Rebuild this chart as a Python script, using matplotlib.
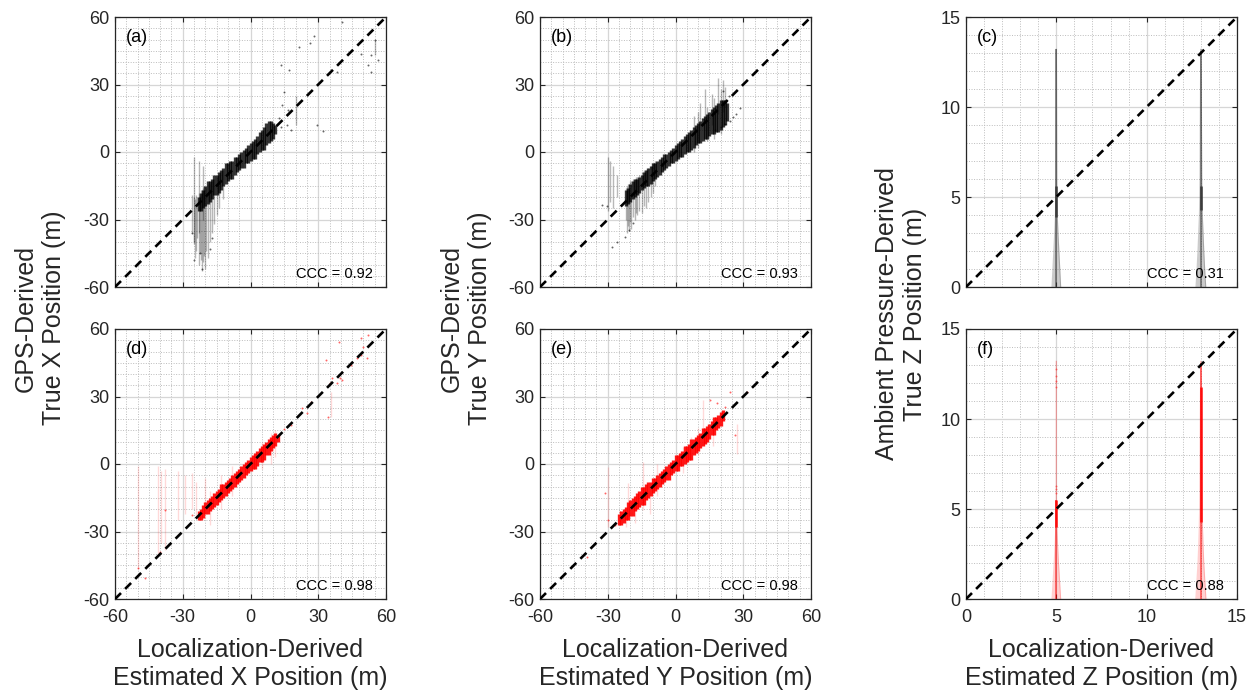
import matplotlib
matplotlib.use("Agg")
import matplotlib.pyplot as plt
from matplotlib.ticker import MultipleLocator

plt.rcParams['font.family'] = ['Liberation Sans', 'DejaVu Sans']
plt.rcParams['axes.unicode_minus'] = False

# ---------------- (a) X position, first estimator (black) ----------------
a_core_x = [-23, -22, -21, -20, -19, -18, -17, -16, -15, -14, -13, -12, -11, -10, -9, -8, -7, -6,
            -5, -4, -3, -2, -1, 0, 1, 2, 3, 4, 5, 6, 7, 8, 9, 10, 11]
a_core_lo = [-26, -26, -25, -24, -23, -22, -21, -19, -19, -18, -17, -15, -14, -13, -12, -12, -10, -9,
             -8, -7, -7, -5, -5, -4, -3, -3, -1, 0, 1, 1, 3, 4, 5, 6, 8]
a_core_hi = [-20, -18, -17, -15, -13, -13, -12, -10, -10, -9, -8, -7, -5, -5, -4, -4, -2, -2,
             -1, 0, 1, 2, 3, 4, 5, 6, 7, 9, 10, 11, 13, 14, 14, 13, 12]
a_tail_x = [-26, -25, -24.5, -24, -23.5, -23, -22.5, -22, -21.5, -21, -20.5, -20, -19.5, -19, -18,
            -17, -16, -15, -14, -12, -25, -23, -21, 20, 55]
a_tail_lo = [-36, -41, -47, -44, -38, -50, -45, -48, -53, -49, -46, -52, -44, -47, -40,
             -36, -32, -28, -25, -21, -40, -36, -30, 12, 43]
a_tail_hi = [-19, -20, -21, -19, -20, -18, -19, -17, -17, -16, -17, -15, -16, -14, -14,
             -13, -12, -11, -10, -8, -2, -4, -6, 25, 50]
a_pts_x = [40.3, 28.1, 26.4, 21.5, 55, 53.3, 48.9, 52, 56.6, 13.3, 17, 38.2, 53.3, 14.8, 14.1, 16.6,
           29.6, 31.9, 16.3, 17.8, -24.8, -21.5, -26, -18, -22.5, -17, 12.5, 13.5]
a_pts_y = [57.6, 51.7, 48.3, 46.5, 49.8, 43, 43.4, 38.7, 40.9, 38.7, 36.4, 35.7, 35.4, 26.8, 20.9, 18.7,
           12, 9.3, 12, 9.7, -48, -52, -36, -43, -45, -38, 15, 11]

# ---------------- (b) Y position, first estimator (black) ----------------
b_core_x = [-22, -21, -20, -19, -18, -17, -16, -15, -14, -13, -12, -11, -10, -9, -8, -7, -6, -5, -4, -3,
            -2, -1, 0, 1, 2, 3, 4, 5, 6, 7, 8, 9, 10, 11, 12, 13, 14, 15, 16, 17, 18, 19, 20, 21, 22, 23]
b_core_lo = [-24, -23, -22, -21, -20, -19, -18, -17, -16, -15, -15, -14, -13, -12, -11, -10, -9, -8, -7, -6,
             -5, -5, -4, -3, -2, -2, -1, 0, 0, 1, 2, 3, 4, 4, 5, 6, 6, 7, 8, 8, 9, 9, 10, 11, 12, 14]
b_core_hi = [-17, -16, -14, -13, -12, -12, -11, -10, -9, -8, -7, -6, -5, -5, -4, -3, -2, -1, -1, 0,
             1, 2, 3, 4, 5, 6, 7, 8, 9, 10, 11, 12, 13, 14, 15, 16, 17, 18, 19, 20, 21, 22, 23, 23, 23, 22]
b_tail_x = [-22, -21.5, -21, -20.5, -20, -19.5, -19, -18, -17.5, -17, -16, -15, -14, -13, -12, -11, -10, -9,
            -30, -29, -27.5, -26, 11, 13, 16, 19, 21, 22, 8, 10, 14, 17, 20]
b_tail_lo = [-30, -36, -33, -35, -31, -34, -29, -30, -27, -28, -26, -27, -24, -25, -22, -20, -18, -15,
             -26, -22, -25, -20, 12, 14, 12, 17, 18, 20, 0, 2, 5, 6, 8]
b_tail_hi = [-16, -15, -14, -14, -13, -13, -12, -12, -11, -11, -10, -9, -8, -8, -7, -6, -5, -4,
             -2, -4, -6, -10, 22, 28, 26, 33, 32, 29, 16, 18, 20, 24, 28]
b_pts_x = [17.5, 20, 22, 24, 25.5, 27, 28.6, -32.7, -30.4, -28.3, -26, -22.4, -20.5, -18.7, 23.5, 21]
b_pts_y = [9.8, 11, 12.5, 14, 15.5, 17, 19.4, -23.6, -24, -42, -40, -37.6, -34.5, -31.7, 25, 27]

# ---------------- (d) X position, refined estimator (red) ----------------
d_core_x = [-23, -22, -21, -20, -19, -18, -17, -16, -15, -14, -13, -12, -11, -10, -9, -8, -7, -6,
            -5, -4, -3, -2, -1, 0, 1, 2, 3, 4, 5, 6, 7, 8, 9, 10, 11, 12]
d_core_lo = [-25, -25, -24, -22, -22, -21, -20, -19, -18, -17, -16, -15, -14, -13, -12, -11, -10, -9,
             -8, -7, -6, -5, -4, -3, -2, -2, -1, 1, 1, 2, 4, 4, 6, 7, 8, 10]
d_core_hi = [-21, -20, -18, -17, -16, -15, -14, -13, -12, -11, -9, -9, -8, -7, -6, -5, -4, -3,
             -2, -1, 0, 1, 2, 3, 4, 5, 6, 7, 8, 9, 10, 11, 12, 13, 14, 13]
d_tail_x = [-49.6, -41, -39.5, -38, -32, -29, -26, -24, -18, -13, -8, 5, 9, 11, 35.6, -20]
d_tail_lo = [-46, -40, -35, -38, -25, -22, -20, -23, -27, -20, -14, -2, 0, 3, 21, -24]
d_tail_hi = [-1, -1, -3, -2, -3, -5, -4, -8, -12, -5, -1, 10, 14, 15, 32, -6]
d_pts_x = [39.3, 48.9, 52.1, 49.6, 48.9, 47.1, 51.6, 44.4, 33.3, 36.3, 39.7, 35.3, 38.2, 40.7, 26.7,
           23, 24.9, 34.1, -49.6, -46.7, -37.8, -26, -40, 15, 18]
d_pts_y = [54.1, 55.9, 57.3, 52.1, 48.4, 47, 47, 44, 46.2, 38.1, 38.1, 35.9, 35.9, 37.3, 27.7,
           24.7, 22.5, 21, -46, -50.8, -20.4, -22.7, -39, 15.5, 17.5]

# ---------------- (e) Y position, refined estimator (red) ----------------
e_core_x = [-25, -24, -23, -22, -21, -20, -19, -18, -17, -16, -15, -14, -13, -12, -11, -10, -9, -8, -7, -6,
            -5, -4, -3, -2, -1, 0, 1, 2, 3, 4, 5, 6, 7, 8, 9, 10, 11, 12, 13, 14, 15, 16, 17, 18, 19, 20, 21]
e_core_lo = [-27, -27, -26, -25, -25, -23, -23, -21, -20, -19, -18, -18, -16, -15, -14, -13, -12, -11, -10, -9,
             -8, -7, -7, -5, -4, -3, -3, -1, -1, 0, 1, 2, 2, 4, 5, 6, 7, 8, 9, 10, 11, 13, 13, 15, 16, 17, 19]
e_core_hi = [-22, -21, -20, -19, -17, -16, -15, -14, -13, -12, -10, -10, -9, -8, -8, -6, -6, -5, -4, -3,
             -2, -1, 0, 1, 2, 4, 4, 5, 6, 8, 8, 9, 11, 11, 12, 13, 14, 16, 16, 17, 18, 19, 21, 21, 22, 23, 24]
e_tail_x = [12, -14.3, -20.9, -11.3, 3.5, 16.8, 27.1, -29.8, -18, -8, 7, 10, -22]
e_tail_lo = [15, -20.4, -24.9, -22, -4.1, 8, 4.4, -27.9, -26, -14, 2, 4, -28]
e_tail_hi = [28.4, 1, -8.6, -14, 7.7, 20, 17.8, -1.2, -14, 0, 12, 16, -20]
e_pts_x = [15.3, 24.1, 31.8, 26.4, -31.2, -24.6, -39.3, -30, 22, 18.5, -27]
e_pts_y = [28.4, 32.1, 32.1, 12.9, -12.7, -21.5, -41.2, -25, 25.5, 27, -27]

# ---------------- (c)/(f) Z position: two estimated floor levels ----------------
z_levels = [5, 13]
spindle_y = [0, 1, 2, 3, 4, 5, 6, 8, 10, 12, 13.2]
c_half_w = [[0.24, 0.19, 0.14, 0.09, 0.05, 0.03, 0.025, 0.02, 0.015, 0.01, 0.0],
            [0.27, 0.21, 0.16, 0.12, 0.08, 0.06, 0.05, 0.04, 0.03, 0.015, 0.0]]
c_core_lo = [3.9, 4.3]
c_core_hi = [5.6, 5.6]
c_top = [13.2, 13.1]

f_half_w = [[0.24, 0.18, 0.12, 0.07, 0.03, 0.0, 0.0, 0.0, 0.0, 0.0, 0.0],
            [0.28, 0.22, 0.16, 0.12, 0.09, 0.07, 0.06, 0.05, 0.04, 0.02, 0.0]]
f_core_lo = [4.0, 4.3]
f_core_hi = [5.5, 11.8]
f_top = [5.5, 13.1]
f_pts_x = [5, 5, 5, 5, 5, 5, 5]
f_pts_y = [5.9, 6.1, 6.3, 11.8, 12.1, 12.4, 12.8]

ccc_values = ['0.92', '0.93', '0.31', '0.98', '0.98', '0.88']
panel_tags = ['(a)', '(b)', '(c)', '(d)', '(e)', '(f)']

FRAME = '#262626'


def style_axes(ax, lim, major, minor, show_xlabels):
    ax.set_xlim(lim)
    ax.set_ylim(lim)
    for axis in (ax.xaxis, ax.yaxis):
        axis.set_major_locator(MultipleLocator(major))
        axis.set_minor_locator(MultipleLocator(minor))
    ax.set_axisbelow(True)
    ax.grid(which='major', color='#d6d6d6', lw=0.9, ls='-')
    ax.grid(which='minor', color='#bcbcbc', lw=0.7, ls=(0, (1, 1.6)))
    ax.tick_params(which='major', direction='in', length=3.5, width=0.8, top=True, right=True,
                   labelsize=13, color=FRAME, labelcolor=FRAME)
    ax.tick_params(which='minor', length=0, top=True, right=True)
    ax.tick_params(axis='x', pad=7)
    ax.tick_params(axis='y', pad=4)
    for s in ax.spines.values():
        s.set_color(FRAME)
        s.set_linewidth(0.9)
    if not show_xlabels:
        ax.tick_params(labelbottom=False)


def draw_xy(ax, color, core_x, core_lo, core_hi, tail_x, tail_lo, tail_hi, pts_x, pts_y,
            tail_alpha, core_alpha):
    ax.vlines(tail_x, tail_lo, tail_hi, colors=color, alpha=tail_alpha, lw=1.0, zorder=2)
    ax.vlines(core_x, core_lo, core_hi, colors=color, alpha=core_alpha, lw=2.4, zorder=3)
    ax.scatter(pts_x, pts_y, s=2, c=color, alpha=0.6, lw=0, zorder=3)


def draw_z(ax, color, half_w, core_lo, core_hi, top, fan_alpha, core_alpha):
    for lvl, hw, lo, hi, t in zip(z_levels, half_w, core_lo, core_hi, top):
        left = [lvl - w for w in hw]
        right = [lvl + w for w in hw]
        ax.fill_betweenx(spindle_y, left, right, color=color, alpha=fan_alpha, lw=0, zorder=2)
        ax.plot(left, spindle_y, color=color, alpha=fan_alpha, lw=0.8, zorder=2)
        ax.plot(right, spindle_y, color=color, alpha=fan_alpha, lw=0.8, zorder=2)
        ax.vlines([lvl], [0], [t], colors=color, alpha=core_alpha * 0.7, lw=1.2, zorder=3)
        ax.vlines([lvl], [lo], [hi], colors=color, alpha=core_alpha, lw=1.9, zorder=3)


def diagonal(ax, lim):
    ax.plot(lim, lim, color='black', lw=1.9, ls=(0, (3.2, 2.2)), zorder=4)


fig = plt.figure(figsize=(12.57, 6.96), dpi=100)
W, H = 1257, 696
lefts = [115, 540, 966]
tops = [17, 329]
size_w, size_h = 271, 270

axes = []
for r, top in enumerate(tops):
    for c, left in enumerate(lefts):
        ax = fig.add_axes([left / W, 1 - (top + size_h) / H, size_w / W, size_h / H])
        axes.append(ax)

ax_a, ax_b, ax_c, ax_d, ax_e, ax_f = axes
xy_lim = [-60, 60]
z_lim = [0, 15]

style_axes(ax_a, xy_lim, 30, 5, False)
style_axes(ax_b, xy_lim, 30, 5, False)
style_axes(ax_c, z_lim, 5, 1, False)
style_axes(ax_d, xy_lim, 30, 5, True)
style_axes(ax_e, xy_lim, 30, 5, True)
style_axes(ax_f, z_lim, 5, 1, True)

draw_xy(ax_a, '#000000', a_core_x, a_core_lo, a_core_hi, a_tail_x, a_tail_lo, a_tail_hi,
        a_pts_x, a_pts_y, 0.28, 0.78)
draw_xy(ax_b, '#000000', b_core_x, b_core_lo, b_core_hi, b_tail_x, b_tail_lo, b_tail_hi,
        b_pts_x, b_pts_y, 0.28, 0.78)
draw_xy(ax_d, '#ff0000', d_core_x, d_core_lo, d_core_hi, d_tail_x, d_tail_lo, d_tail_hi,
        d_pts_x, d_pts_y, 0.15, 0.9)
draw_xy(ax_e, '#ff0000', e_core_x, e_core_lo, e_core_hi, e_tail_x, e_tail_lo, e_tail_hi,
        e_pts_x, e_pts_y, 0.15, 0.9)
draw_z(ax_c, '#333333', c_half_w, c_core_lo, c_core_hi, c_top, 0.25, 0.85)
draw_z(ax_f, '#ff0000', f_half_w, f_core_lo, f_core_hi, f_top, 0.18, 0.85)
ax_f.scatter(f_pts_x, f_pts_y, s=2, c='#ff0000', alpha=0.45, lw=0, zorder=3)

for ax, lim in zip(axes, [xy_lim, xy_lim, z_lim, xy_lim, xy_lim, z_lim]):
    diagonal(ax, lim)

for ax, tag, ccc in zip(axes, panel_tags, ccc_values):
    ax.text(0.04, 0.955, tag, transform=ax.transAxes, ha='left', va='top', fontsize=13, color='black',
            zorder=6)
    ax.text(0.667, 0.035, f'CCC = {ccc}', transform=ax.transAxes, ha='left', va='baseline',
            fontsize=10.5, color='black', zorder=6)

label_kw = dict(fontsize=18, color=FRAME, ha='center', va='center', multialignment='center',
                linespacing=1.25)
fig.text(40 / W, 1 - 318 / H, 'GPS-Derived\nTrue X Position (m)', rotation=90, **label_kw)
fig.text(466 / W, 1 - 318 / H, 'GPS-Derived\nTrue Y Position (m)', rotation=90, **label_kw)
fig.text(901 / W, 1 - 314 / H, 'Ambient Pressure-Derived\nTrue Z Position (m)', rotation=90, **label_kw)
fig.text(250 / W, 1 - 664 / H, 'Localization-Derived\nEstimated X Position (m)', **label_kw)
fig.text(675.5 / W, 1 - 664 / H, 'Localization-Derived\nEstimated Y Position (m)', **label_kw)
fig.text(1101.5 / W, 1 - 664 / H, 'Localization-Derived\nEstimated Z Position (m)', **label_kw)

fig.savefig('out.png', dpi=100)
